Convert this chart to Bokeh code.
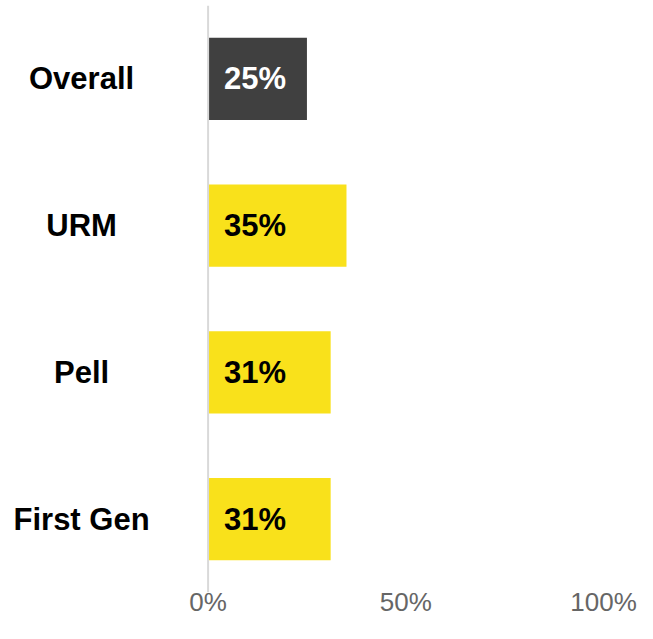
from bokeh.plotting import figure
from bokeh.models import ColumnDataSource, FactorRange, Range1d, FixedTicker, Span
from bokeh.core.properties import value
from bokeh.embed import file_html
from bokeh.resources import INLINE

categories = ["Overall", "URM", "Pell", "First Gen"]
percentages = [25, 35, 31, 31]
value_labels = ["25%", "35%", "31%", "31%"]
tick_values = [0, 50, 100]
tick_labels = ["0%", "50%", "100%"]

fill = ["#404040" if c == "Overall" else "#F9E11B" for c in categories]
label_colors = ["#FFFFFF" if c == "Overall" else "#000000" for c in categories]

src = ColumnDataSource(dict(cat=categories, val=percentages, lab=value_labels,
                            fill=fill, tcol=label_colors,
                            lx=[4.0] * len(categories), cx=[-32] * len(categories)))

p = figure(width=637, height=623, output_backend="svg", toolbar_location=None,
           y_range=FactorRange(factors=list(reversed(categories))),
           x_range=Range1d(-52.5, 100),
           min_border_left=0, min_border_right=34, min_border_top=5, min_border_bottom=31)

p.hbar(y="cat", left=0, right="val", height=0.56, fill_color="fill", line_color=None, source=src)

p.add_layout(Span(location=0, dimension="height", line_color="#d9d9d9", line_width=2))

p.text(x="lx", y="cat", text="lab", text_color="tcol", text_align="left", text_baseline="middle",
       text_font=value("Liberation Sans"), text_font_style="bold", text_font_size="31px", source=src)
p.text(x="cx", y="cat", text="cat", text_color="#000000", text_align="center", text_baseline="middle",
       text_font=value("Liberation Sans"), text_font_style="bold", text_font_size="31px", source=src)

p.yaxis.visible = False
p.xgrid.visible = False
p.ygrid.visible = False
p.outline_line_color = None

p.xaxis.ticker = FixedTicker(ticks=tick_values)
p.xaxis.major_label_overrides = {t: l for t, l in zip(tick_values, tick_labels)}
p.xaxis.axis_line_color = None
p.xaxis.major_tick_line_color = None
p.xaxis.minor_tick_line_color = None
p.xaxis.major_tick_out = 0
p.xaxis.major_tick_in = 0
p.xaxis.minor_tick_out = 0
p.xaxis.minor_tick_in = 0
p.xaxis.major_label_text_font = "Liberation Sans"
p.xaxis.major_label_text_font_size = "26px"
p.xaxis.major_label_text_color = "#666666"
p.xaxis.major_label_standoff = -6

open("out.html", "w").write(file_html(p, INLINE))
